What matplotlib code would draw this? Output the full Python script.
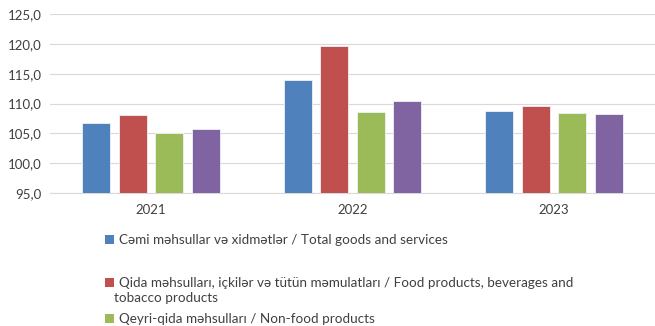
import numpy as np
from matplotlib import pyplot as plt
from matplotlib.patches import Patch

plt.rcParams['font.family'] = ['Lato', 'DejaVu Sans']

years = ['2021', '2022', '2023']
total = [106.7, 113.9, 108.8]
food = [108.1, 119.6, 109.6]
nonfood = [105.1, 108.6, 108.4]
services = [105.8, 110.5, 108.2]

names = [
    'Cəmi məhsullar və xidmətlər / Total goods and services',
    'Qida məhsulları, içkilər və tütün məmulatları / Food products, beverages and',
    'Qeyri-qida məhsulları / Non-food products',
]
colors = ['#4f81bd', '#c0504d', '#9bbb59', '#8064a2']
series = [total, food, nonfood, services]

fig = plt.figure(figsize=(6.55, 3.26), dpi=100)
ax = fig.add_axes([0.0763, 0.408, 0.9237, 0.549])

x = np.arange(len(years))
w = 0.139
step = 0.181
for i, vals in enumerate(series):
    ax.bar(x + (i - 1.5) * step, np.array(vals) - 95, w, bottom=95,
           color=colors[i], edgecolor='#eef2f8', linewidth=0.6, zorder=3)

ax.set_xlim(-0.5, 2.5)
ax.set_ylim(95, 125)
ax.set_yticks(np.arange(95, 126, 5))
ax.set_yticklabels([f'{v:.1f}'.replace('.', ',') for v in np.arange(95, 126, 5)])
ax.set_xticks(x)
ax.set_xticklabels(years)
ax.tick_params(length=0, labelsize=9.5, labelcolor='#404040')
ax.tick_params(axis='x', pad=8)
ax.tick_params(axis='y', pad=6)
ax.grid(axis='y', color='#d9d9d9', linewidth=0.8, zorder=0)
for s in ['top', 'right', 'left']:
    ax.spines[s].set_visible(False)
ax.spines['bottom'].set_color('#d9d9d9')
ax.spines['bottom'].set_linewidth(0.8)

# legend entries placed one by one, like the Excel layout
# (the fourth entry, services, falls below the picture in the original)
ys = [0.264, 0.132, 0.0215]
for i in range(3):
    fig.legend(handles=[Patch(facecolor=colors[i])], labels=[names[i]],
               loc='center left', bbox_to_anchor=(0.160, ys[i]),
               frameon=False, borderpad=0, borderaxespad=0,
               handlelength=0.7, handleheight=0.7, handletextpad=0.35,
               fontsize=9.7, labelcolor='#404040')
fig.text(0.1745, 0.086, 'tobacco products', fontsize=9.7, color='#404040', va='center')

fig.savefig('out.png', dpi=100)
